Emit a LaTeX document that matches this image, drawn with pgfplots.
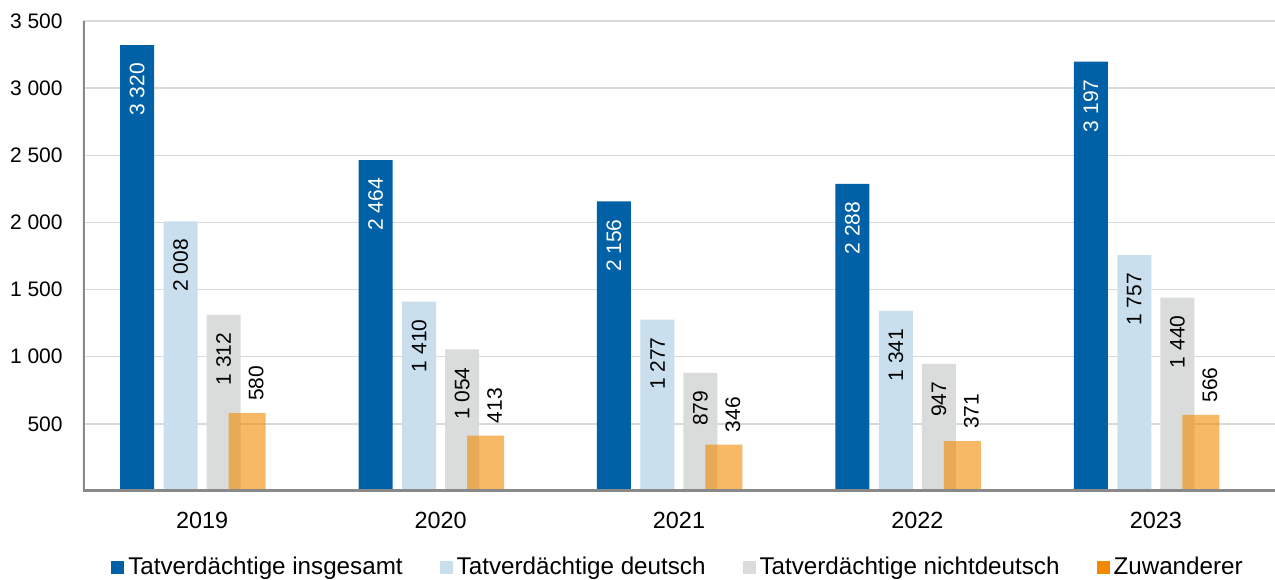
\documentclass[border=0pt]{standalone}
\usepackage{fontspec}
\setmainfont{Liberation Sans}
\usepackage{pgfplots}
\pgfplotsset{compat=1.18}

\definecolor{tvBlue}{RGB}{0,97,166}
\definecolor{tvLight}{RGB}{201,223,238}
\definecolor{tvGray}{RGB}{218,219,219}
\definecolor{tvOrange}{RGB}{241,138,0}
\definecolor{spine}{RGB}{137,137,137}
\definecolor{gridc}{RGB}{217,217,217}

\pgfplotsset{
  sqlegend/.style={legend image code/.code={%
    \fill[##1,fill opacity=1,draw=none] (0pt,-3.25pt) rectangle (6.5pt,3.25pt);}},
  inlabel/.style={nodes near coords,
    every node near coord/.append style={#1, font=\fontsize{10.5}{12}\selectfont,
      yshift=-8.75pt, rotate=90, anchor=east, inner sep=0pt}},
  outlabel/.style={nodes near coords,
    every node near coord/.append style={black, text opacity=1, fill opacity=1,
      font=\fontsize{10.5}{12}\selectfont,
      xshift=4.5pt, yshift=6pt, rotate=90, anchor=west, inner sep=0pt}},
}

\begin{document}
\begin{tikzpicture}
\useasboundingbox (-41.5pt,-44pt) rectangle (596pt,245.5pt);
\begin{axis}[
  scale only axis, width=596pt, height=235pt,
  xmin=-0.5, xmax=4.5, ymin=0, ymax=3500,
  ybar, bar width=17pt,
  xtick={0,1,2,3,4}, xticklabels={2019,2020,2021,2022,2023},
  ytick={500,1000,...,3500},
  major tick length=0pt,
  axis line style={draw=none},
  ymajorgrids, grid style={gridc, line width=0.75pt},
  /pgf/number format/.cd, 1000 sep={\ }, assume math mode=true, fixed,
  /pgfplots/.cd,
  yticklabel style={font=\fontsize{10.5}{12}\selectfont, anchor=east, inner sep=0pt, xshift=-10pt},
  xticklabel style={font=\fontsize{11.7}{14}\selectfont, anchor=base, inner sep=0pt, yshift=-18.5pt},
  legend columns=4,
  legend cell align=left,
  legend style={draw=none, fill=none, at={(0.5,-0.1617)}, anchor=center,
    font=\fontsize{12.1}{14}\selectfont,
    /tikz/every even column/.append style={column sep=16.5pt}},
]
\addplot[fill=tvBlue, draw=none, bar shift=-32.5pt, inlabel=white, sqlegend]
  coordinates {(0,3320) (1,2464) (2,2156) (3,2288) (4,3197)};
\addplot[fill=tvLight, draw=none, bar shift=-10.75pt, inlabel=black, sqlegend]
  coordinates {(0,2008) (1,1410) (2,1277) (3,1341) (4,1757)};
\addplot[fill=tvGray, draw=none, bar shift=10.75pt, inlabel=black, sqlegend]
  coordinates {(0,1312) (1,1054) (2,879) (3,947) (4,1440)};
\addplot[fill=tvOrange, fill opacity=0.6, draw=none, bar shift=22.5pt, bar width=18.5pt, outlabel, sqlegend]
  coordinates {(0,580) (1,413) (2,346) (3,371) (4,566)};
\legend{Tatverdächtige insgesamt, Tatverdächtige deutsch, Tatverdächtige nichtdeutsch, Zuwanderer}
\draw[spine, line width=1.6pt] (rel axis cs:0,0) -- (rel axis cs:1,0);
\draw[spine, line width=1.6pt] (rel axis cs:0,0) -- (rel axis cs:0,1);
\end{axis}
\end{tikzpicture}
\end{document}
